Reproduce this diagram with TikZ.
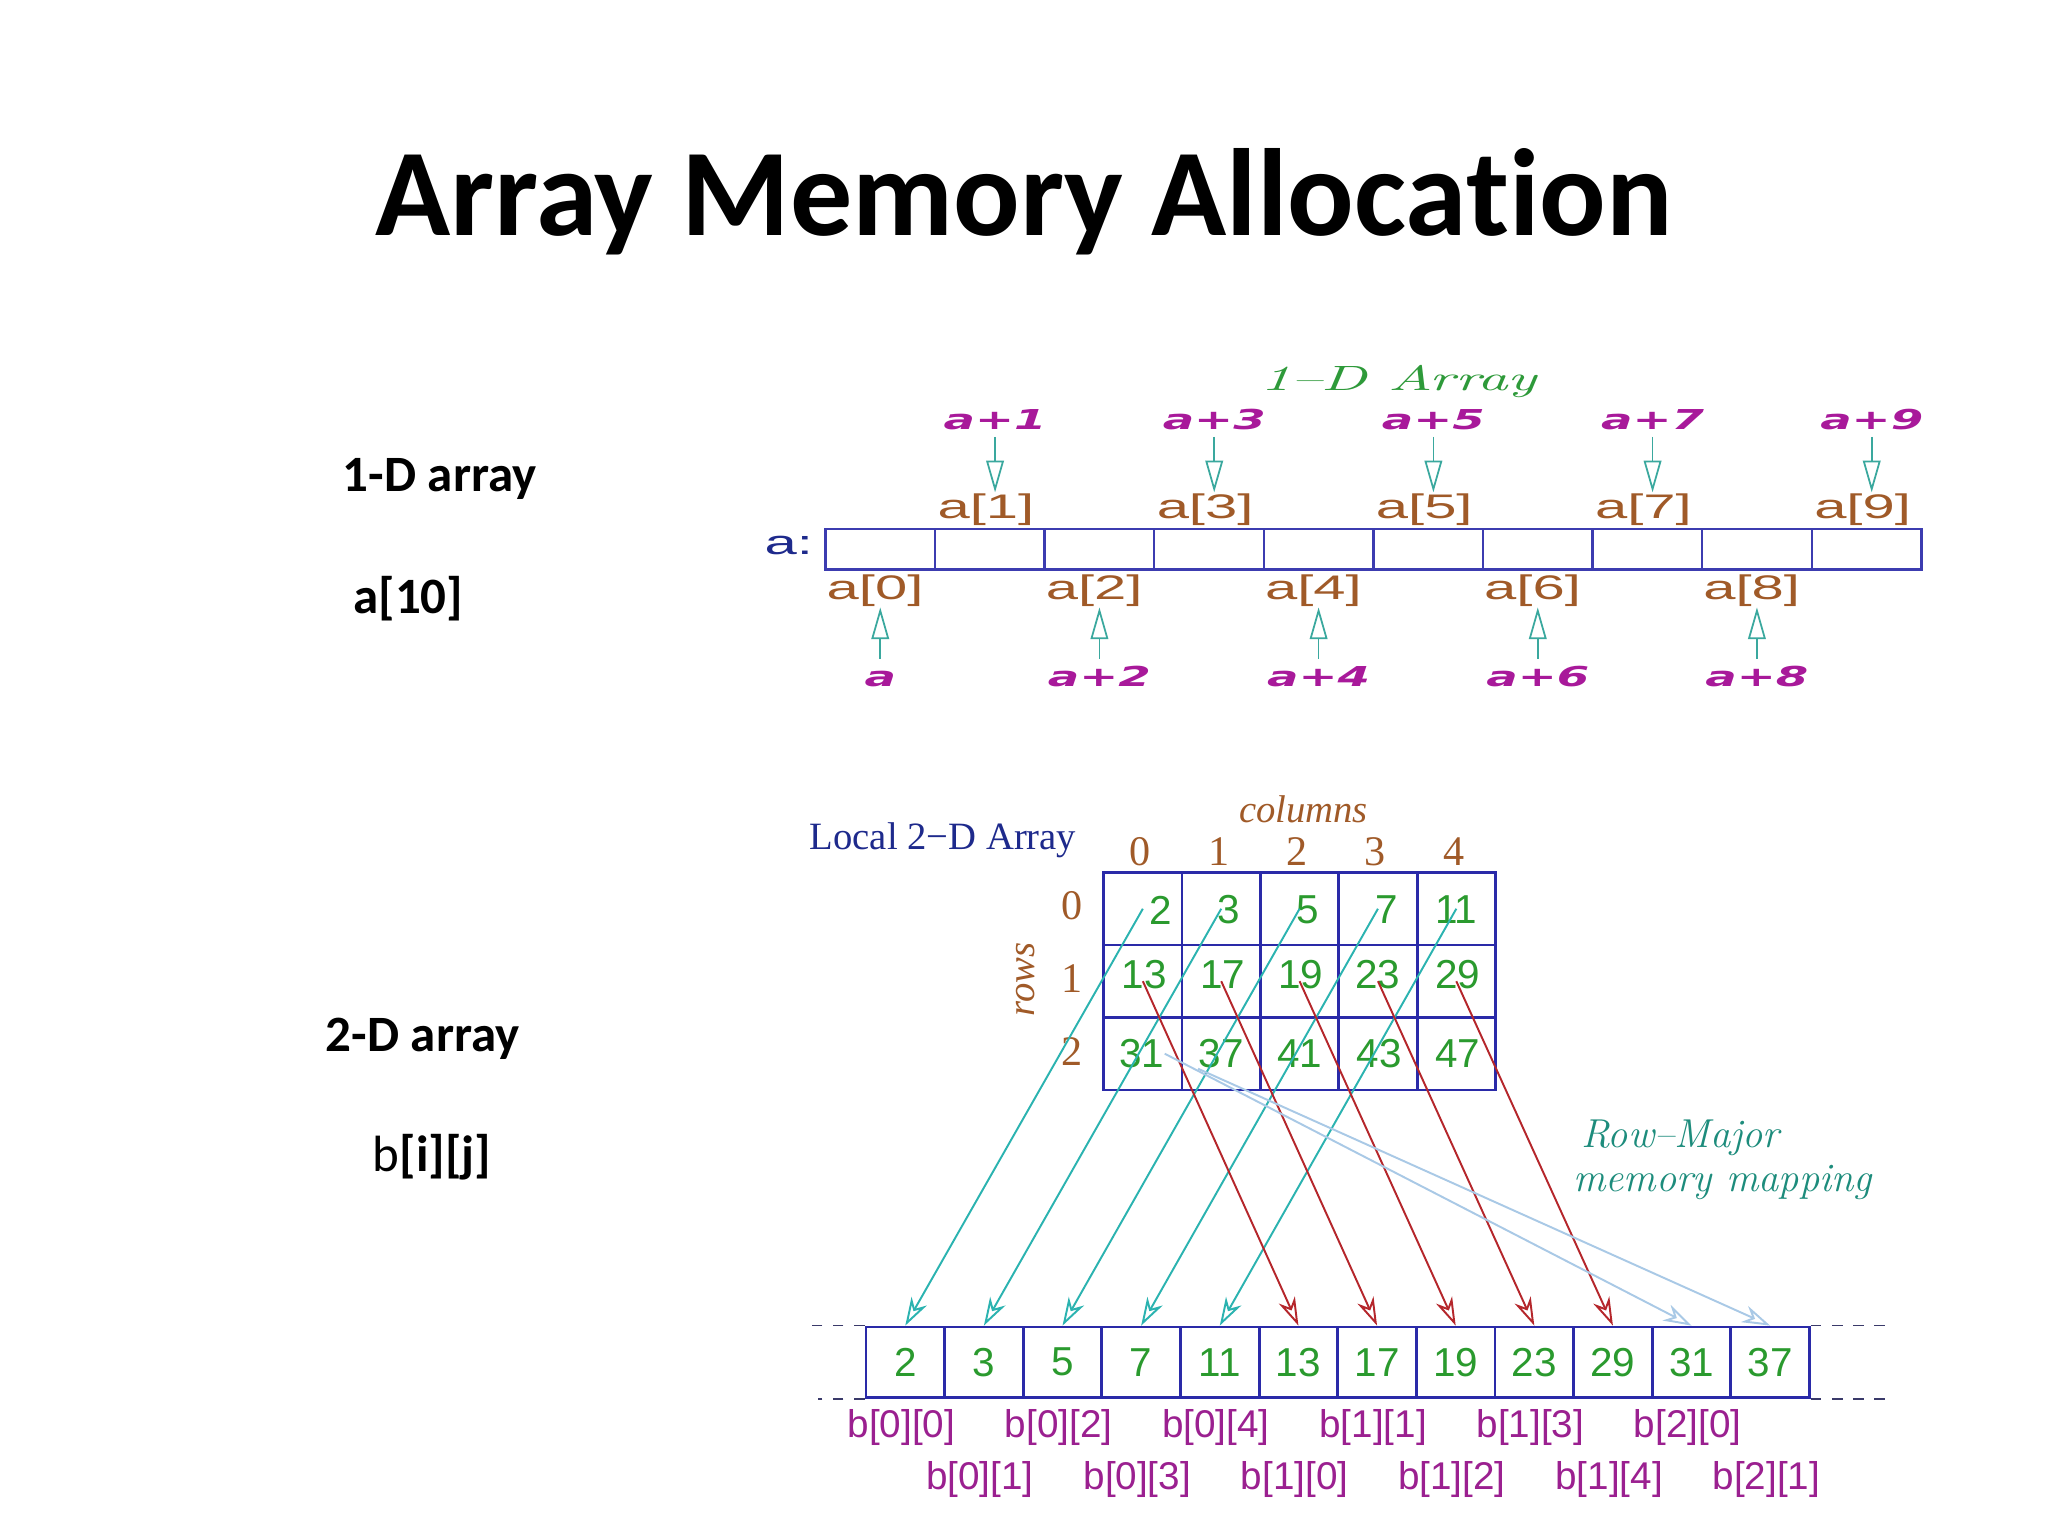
\documentclass[tikz,border=0pt]{standalone}
\usepackage{fontspec}
\usepackage{xcolor}
\usetikzlibrary{arrows.meta}

\newfontfamily\titlefont[Ligatures=NoCommon]{Carlito}
\newfontfamily\sansfont{Liberation Sans}
\newfontfamily\serffont{Liberation Serif}
\newfontfamily\widesans{DejaVu Sans}

\definecolor{magen}{HTML}{A8199A}
\definecolor{brownlab}{HTML}{A05A28}
\definecolor{boxblue}{HTML}{3C3CB0}
\definecolor{navytext}{HTML}{1E2A8C}
\definecolor{arrteal}{HTML}{3AA89E}
\definecolor{arrgreen}{HTML}{2E9A3A}
\definecolor{gridblue}{HTML}{2A2AA8}
\definecolor{dashgray}{HTML}{3A3A6A}
\definecolor{greennum}{HTML}{2A9A2E}
\definecolor{cyanarr}{HTML}{2BB3B0}
\definecolor{redarr}{HTML}{B5262B}
\definecolor{lightarr}{HTML}{A9C9E6}
\definecolor{purplab}{HTML}{9B2090}
\definecolor{tealtext}{HTML}{1D8C7C}

\newlength\upx
\setlength\upx{0.013061cm}
\newcommand{\wide}[1]{\scalebox{1.7}[1]{#1}}

\begin{document}
\begin{tikzpicture}[x=0.013061cm, y=-0.013061cm]
    \tikzstyle{heading} = [font=\titlefont\bfseries\fontsize{35.3}{40}\selectfont, anchor=base, inner sep=0pt]
    \tikzstyle{side} = [font=\titlefont\bfseries\fontsize{14.5}{17}\selectfont, anchor=base west, inner sep=0pt]
    \tikzstyle{acell} = [rectangle, draw=boxblue, line width=0.7pt, minimum width=83.9\upx, minimum height=31\upx, inner sep=0pt]
    \tikzstyle{addr} = [font=\widesans\bfseries\itshape\fontsize{7.8}{9}\selectfont, text=magen, text height=5.6pt, text depth=0pt, inner sep=2pt]
    \tikzstyle{elem} = [font=\sansfont\fontsize{9.7}{11}\selectfont, text=brownlab, text height=7.3pt, text depth=2pt, inner sep=0pt]
    \tikzstyle{ptr} = [draw=arrteal, line width=0.5pt, -{Triangle[open, length=9pt, width=5pt]}]
    \tikzstyle{gcell} = [rectangle, draw=gridblue, line width=0.8pt, minimum width=60\upx, minimum height=55.5\upx, inner sep=0pt]
    \tikzstyle{mcell} = [gcell, minimum width=60.2\upx, minimum height=54\upx, text=greennum, font=\sansfont\fontsize{11.5}{13}\selectfont]
    \tikzstyle{num} = [text=greennum, font=\sansfont\fontsize{11.5}{13}\selectfont, inner sep=0pt]
    \tikzstyle{idx} = [text=brownlab, font=\serffont\fontsize{12}{14}\selectfont, inner sep=0pt]
    \tikzstyle{blabel} = [text=purplab, font=\sansfont\fontsize{11}{13}\selectfont, inner sep=0pt]
    \tikzstyle{fwd} = [line width=0.55pt, -{Stealth[open, length=8pt, width=5pt, inset=2.5pt]}]

    \fill[white] (0,0) rectangle (1568,1176);
    \useasboundingbox (0,0) rectangle (1568,1176);

    % title and side notes
    \node (title) [heading] at (784,180) {Array Memory Allocation};
    \node (oned) [side] at (262,376) {1-D array};
    \node (adecl) [side] at (270,470) {a[10]};
    \node (twod) [side] at (249,805) {2-D array};
    \node (bdecl) [side] at (285,897) {{\mdseries b}[i][j]};

    % 1-D array
    \node (atitle) [text=arrgreen, font=\rmfamily\itshape\fontsize{10}{11}\selectfont] at (1071,292) {\wide{1--D Array}};
    \node (aname) [text=navytext, font=\sansfont\fontsize{9.7}{11}\selectfont] at (604,418) {\wide{a:}};
    \foreach \i in {0,...,9}
        \node (a\i) [acell] at ({632+83.9*(\i+0.5)},420.5) {};
    \foreach \i in {1,3,5,7,9} {
        \node (e\i) [elem] at ({632+83.9*(\i+0.5)-3},390) {\wide{a[\i]}};
        \node (p\i) [addr] at ({632+83.9*(\i+0.5)+4},321) {\wide{a+\i}};
        \draw [ptr] (p\i.south) -- (p\i.south |- e\i.north);
    }
    \foreach \i in {0,2,4,6,8} {
        \node (e\i) [elem] at ({632+83.9*(\i+0.5)-4},452) {\wide{a[\i]}};
        \node (p\i) [addr] at ({632+83.9*(\i+0.5)},518) {\wide{\ifnum\i=0 a\else a+\i\fi}};
        \draw [ptr] (p\i.north) -- (p\i.north |- e\i.south);
    }

    % 2-D array
    \node (btitle) [text=navytext, font=\serffont\fontsize{11}{13}\selectfont] at (722,643) {Local 2−D Array};
    \node (cols) [text=brownlab, font=\serffont\itshape\fontsize{11}{13}\selectfont] at (998,620) {columns};
    \node (rows) [text=brownlab, font=\serffont\itshape\fontsize{11}{13}\selectfont, rotate=90] at (785,750) {rows};
    \foreach \r in {0,1,2} {
        \foreach \c in {0,...,4}
            \node (g\r\c) [gcell] at ({845+60*(\c+0.5)},{668+55.5*(\r+0.5)}) {};
        \node (ri\r) [idx] at (821,{668+55.5*(\r+0.5)-2}) {\r};
    }
    \foreach \c in {0,...,4}
        \node (ci\c) [idx] at ({845+60*(\c+0.5)-2},652) {\c};
    \foreach \r/\c/\v/\dx/\dy in {0/0/2/14/1, 0/1/3/6/1, 0/2/5/6/1, 0/3/7/7/1, 0/4/11/0/1,
                                  1/0/13/1/-5, 1/1/17/1/-5, 1/2/19/1/-5, 1/3/23/0/-5, 1/4/29/1/-5,
                                  2/0/31/-1/0, 2/1/37/0/0, 2/2/41/0/0, 2/3/43/1/0, 2/4/47/1/0}
        \node (n\r\c) [num] at ({845+60*(\c+0.5)+\dx},{668+55.5*(\r+0.5)+\dy}) {\v};

    % memory row
    \foreach \k/\v in {0/2, 1/3, 2/5, 3/7, 4/11, 5/13, 6/17, 7/19, 8/23, 9/29, 10/31, 11/37}
        \node (m\k) [mcell] at ({663+60.2*(\k+0.5)},1043) {\v};
    \foreach \k in {0,...,11} {
        \pgfmathtruncatemacro\bi{\k/5}
        \pgfmathtruncatemacro\bj{mod(\k,5)}
        \pgfmathsetmacro\by{ifthenelse(mod(\k,2)==0,1093,1133)}
        \node (b\k) [blabel] at ({663+60.2*(\k+0.5)-3},\by) {b[\bi][\bj]};
    }
    \draw [dashgray, dash pattern=on 3pt off 3pt] (m0.north west) -- ++(-45,0);
    \draw [dashgray, dash pattern=on 3pt off 3pt] (m0.south west) -- ++(-36,0);
    \draw [dashgray, dash pattern=on 3pt off 3pt] (m11.north east) -- ++(60,0);
    \draw [dashgray, dash pattern=on 3pt off 3pt] (m11.south east) -- ++(60,0);

    % row-major mapping
    \foreach \c in {0,...,4}
        \draw [fwd, cyanarr] (g0\c.center) -- (m\c.north);
    \foreach \c in {0,...,4} {
        \pgfmathtruncatemacro\k{\c+5}
        \draw [fwd, redarr] (g1\c.center) -- (m\k.north);
    }
    \draw [fwd, lightarr] (n20.east) -- (m10.north);
    \draw [fwd, lightarr] (n21.south west) -- (m11.north);
    \node (mapping) [text=tealtext, font=\rmfamily\itshape\fontsize{11.5}{12.3}\selectfont, anchor=west, align=left] at (1195,888) {\hspace*{6\upx}Row--Major\\memory mapping};
\end{tikzpicture}
\end{document}
